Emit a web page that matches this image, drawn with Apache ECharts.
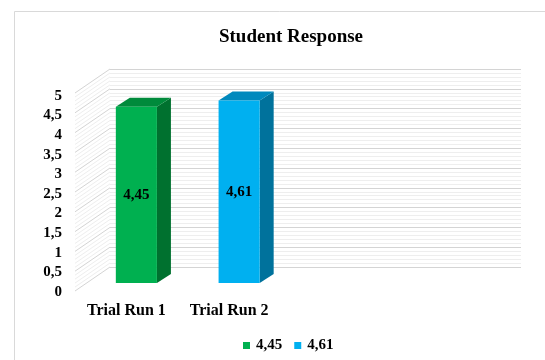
<!DOCTYPE html>
<html>
<head>
<meta charset="utf-8">
<script src="https://cdn.jsdelivr.net/npm/echarts@6/dist/echarts.min.js"></script>
<style>
  html, body { margin: 0; padding: 0; background: #fff; }
  #main { width: 545px; height: 360px; }
</style>
</head>
<body>
<div id="main"></div>
<script>
// data
var categories = ['Trial Run 1', 'Trial Run 2'];
var values = [4.45, 4.61];
var legendLabels = ['4,45', '4,61'];
var yTicks = [0, 0.5, 1, 1.5, 2, 2.5, 3, 3.5, 4, 4.5, 5];

// Excel style: extra empty slots on the category axis
var axisCats = categories.concat(['', '']);

var faceColors = [
  { front: '#00b050', side: '#00712f', top: '#008a3b' },
  { front: '#00b0f0', side: '#00729c', top: '#0089bd' }
];

var FONT = 'Liberation Serif';
// oblique offsets (pixels)
var WALL_DX = -35, WALL_DY = 24;     // back wall -> front edge of floor
var BAR_DX = -25, BAR_DY = 16;       // back wall -> bar front face
var DEPTH_DX = 14, DEPTH_DY = -9;    // bar depth

function fmt(v) { return String(v).replace('.', ','); }

var myChart = echarts.init(document.getElementById('main'));

// side wall lines: major + minor ticks
var wallTicks = [];
for (var i = 0; i < yTicks.length; i++) {
  wallTicks.push([yTicks[i], 1]);
  if (i < yTicks.length - 1) {
    for (var k = 1; k < 5; k++) {
      wallTicks.push([yTicks[i] + (yTicks[i + 1] - yTicks[i]) * k / 5, 0]);
    }
  }
}

function renderWall(params, api) {
  var cs = params.coordSys;
  var p = api.coord([0, api.value(0)]);
  var major = api.value(1) === 1;
  return {
    type: 'line',
    shape: { x1: cs.x, y1: p[1], x2: cs.x + WALL_DX, y2: p[1] + WALL_DY },
    style: { stroke: major ? '#d4d4d4' : '#eeeeee', lineWidth: 1 },
    silent: true
  };
}

function makeBarRender(ci) {
  return function (params, api) {
    var top = api.coord([api.value(0), api.value(1)]);
    var bot = api.coord([api.value(0), 0]);
    var w = api.size([1, 0])[0] * 0.4;
    var x0 = top[0] - w / 2 + BAR_DX;
    var x1 = x0 + w;
    var yT = top[1] + BAR_DY;
    var yB = bot[1] + BAR_DY;
    var c = faceColors[ci];
    return {
      type: 'group',
      children: [
        {
          type: 'polygon',
          shape: { points: [[x1, yT], [x1 + DEPTH_DX, yT + DEPTH_DY], [x1 + DEPTH_DX, yB + DEPTH_DY], [x1, yB]] },
          style: { fill: c.side }
        },
        {
          type: 'polygon',
          shape: { points: [[x0, yT], [x0 + DEPTH_DX, yT + DEPTH_DY], [x1 + DEPTH_DX, yT + DEPTH_DY], [x1, yT]] },
          style: { fill: c.top }
        },
        {
          type: 'rect',
          shape: { x: x0, y: yT, width: w, height: yB - yT },
          style: { fill: c.front }
        },
        {
          type: 'text',
          x: (x0 + x1) / 2,
          y: (yT + yB) / 2,
          style: {
            text: fmt(api.value(1)),
            align: 'center',
            verticalAlign: 'middle',
            font: 'bold 15px "' + FONT + '"',
            fill: '#000'
          }
        }
      ]
    };
  };
}

var series = [{
  type: 'custom',
  xAxisIndex: 0,
  yAxisIndex: 0,
  renderItem: renderWall,
  data: wallTicks,
  silent: true,
  z: 1
}];
for (var s = 0; s < categories.length; s++) {
  series.push({
    name: legendLabels[s],
    type: 'custom',
    xAxisIndex: 0,
    yAxisIndex: 0,
    itemStyle: { color: faceColors[s].front },
    renderItem: makeBarRender(s),
    data: [[s, values[s]]],
    z: 5
  });
}

var option = {
  backgroundColor: '#fff',
  animation: false,
  title: {
    text: 'Student Response',
    left: 286,
    textAlign: 'center',
    top: 23,
    textStyle: { fontFamily: FONT, fontWeight: 'bold', fontSize: 19, color: '#000' }
  },
  legend: {
    data: legendLabels,
    left: 238,
    bottom: 2,
    icon: 'rect',
    itemWidth: 7,
    itemHeight: 7,
    itemGap: 12,
    textStyle: { fontFamily: FONT, fontWeight: 'bold', fontSize: 15, color: '#000', padding: [0, 0, 0, 1] }
  },
  graphic: [{
    type: 'polyline',
    shape: { points: [[14.5, 360], [14.5, 11.5], [545, 11.5]] },
    style: { stroke: '#d9d9d9', lineWidth: 1, fill: null },
    silent: true
  }],
  grid: [
    { left: 110, right: 24, top: 69, bottom: 93 },
    { left: 75, right: 59, top: 96, bottom: 68 }
  ],
  xAxis: [
    {
      gridIndex: 0, type: 'category', data: axisCats,
      axisLine: { show: false }, axisTick: { show: false }, axisLabel: { show: false }
    },
    {
      gridIndex: 1, type: 'category', data: axisCats,
      axisLine: { show: false }, axisTick: { show: false },
      axisLabel: { interval: 0, margin: 11, fontFamily: FONT, fontWeight: 'bold', fontSize: 16, color: '#000' }
    }
  ],
  yAxis: [
    {
      gridIndex: 0, type: 'value', min: 0, max: 5, interval: 0.5,
      axisLine: { show: false }, axisTick: { show: false }, axisLabel: { show: false },
      splitLine: { show: true, lineStyle: { color: '#d4d4d4', width: 1 } },
      minorTick: { show: false, splitNumber: 5 },
      minorSplitLine: { show: true, lineStyle: { color: '#eeeeee', width: 1 } }
    },
    {
      gridIndex: 1, type: 'value', min: 0, max: 5, interval: 0.5,
      axisLine: { show: false }, axisTick: { show: false }, splitLine: { show: false },
      axisLabel: {
        margin: 13, fontFamily: FONT, fontWeight: 'bold', fontSize: 15, color: '#000',
        formatter: function (v) { return fmt(v); }
      }
    }
  ],
  series: series
};
myChart.setOption(option);
</script>
</body>
</html>
